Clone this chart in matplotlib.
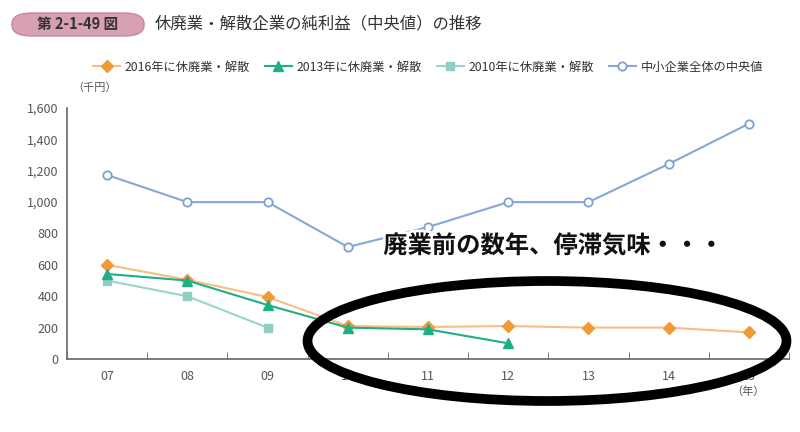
import numpy as np
import matplotlib.pyplot as plt
from matplotlib.patches import Ellipse, FancyBboxPatch
import matplotlib.patheffects as pe

plt.rcParams['font.family'] = ['Noto Sans CJK JP', 'DejaVu Sans']

years = ['07', '08', '09', '10', '11', '12', '13', '14', '15']
all_median = [1173, 1000, 1000, 714, 841, 1000, 1000, 1243, 1500]
closed_2016 = [600, 505, 395, 210, 204, 210, 200, 200, 170]
closed_2013 = [542, 500, 344, 200, 189, 100]
closed_2010 = [500, 400, 200]
yticks = [0, 200, 400, 600, 800, 1000, 1200, 1400, 1600]

fig = plt.figure(figsize=(8, 4.32), dpi=100)
ax = fig.add_axes([67/800, 73/432, 722/800, 251/432])

x = np.arange(len(years))
ax.plot(x, all_median, color='#86A8D6', lw=1.5, marker='o', ms=6,
        mfc='white', mec='#7FA1D2', mew=1.3, label='中小企業全体の中央値', zorder=3)
ax.plot(x, closed_2016, color='#F7BE86', lw=1.5, marker='D', ms=6,
        mfc='#F29A35', mec='#F29A35', label='2016年に休廃業・解散', zorder=4)
ax.plot(x[:len(closed_2013)], closed_2013, color='#1DAF86', lw=1.5, marker='^', ms=6.5,
        mfc='#1DAF86', mec='#1DAF86', label='2013年に休廃業・解散', zorder=5)
ax.plot(x[:len(closed_2010)], closed_2010, color='#98D6CB', lw=1.5, marker='s', ms=6,
        mfc='#8FCFC3', mec='#8FCFC3', label='2010年に休廃業・解散', zorder=4)

ax.set_xlim(-0.5, len(years) - 0.5)
ax.set_ylim(0, 1600)
ax.set_yticks(yticks)
ax.set_yticklabels([f'{v:,}' for v in yticks])
ax.set_xticks(x)
ax.set_xticklabels(years)
ax.set_xticks(np.arange(len(years) + 1) - 0.5, minor=True)
ax.tick_params(axis='x', which='major', length=0, pad=8, labelsize=9, colors='#555555')
ax.tick_params(axis='x', which='minor', direction='in', length=5, color='#666666')
ax.tick_params(axis='y', length=0, pad=6, labelsize=9, colors='#555555')
for s in ['top', 'right']:
    ax.spines[s].set_visible(False)
for s in ['left', 'bottom']:
    ax.spines[s].set_color('#666666')
    ax.spines[s].set_linewidth(1.2)

handles, labels = ax.get_legend_handles_labels()
order = [1, 2, 3, 0]
fig.legend([handles[i] for i in order], [labels[i] for i in order],
           loc='center', bbox_to_anchor=(428/800, 1 - 67/432), ncol=4, frameon=False,
           fontsize=8.8, handlelength=2.2, columnspacing=1.2, handletextpad=0.4,
           labelcolor='#333333')

fig.text(95/800, 1 - 88/432, '（千円）', fontsize=8, color='#555555', ha='center', va='center')
fig.text(748/800, 1 - 392/432, '（年）', fontsize=8, color='#555555', ha='center', va='center')

badge = FancyBboxPatch((12/800, 1 - 36/432), 132/800, 23/432,
                       boxstyle='round,pad=0,rounding_size=0.025',
                       transform=fig.transFigure, facecolor='#D8A1B1',
                       edgecolor='#C68799', lw=1)
fig.add_artist(badge)
fig.text(78/800, 1 - 24/432, '第 2-1-49 図', fontsize=10.5, fontweight='bold',
         color='#333333', ha='center', va='center')
fig.text(155/800, 1 - 24/432, '休廃業・解散企業の純利益（中央値）の推移', fontsize=11.8,
         color='#333333', ha='left', va='center')

fig.text(553/800, 1 - 246/432, '廃業前の数年、停滞気味・・・', fontsize=17.5, fontweight='bold',
         color='#111111', ha='center', va='center', zorder=10,
         path_effects=[pe.withStroke(linewidth=4, foreground='white')])

ell = Ellipse((5.47, 0.91), 4.79, 1.2, transform=fig.dpi_scale_trans,
              fill=False, edgecolor='black', lw=7, zorder=10)
fig.add_artist(ell)

fig.savefig('out.png', dpi=100)
